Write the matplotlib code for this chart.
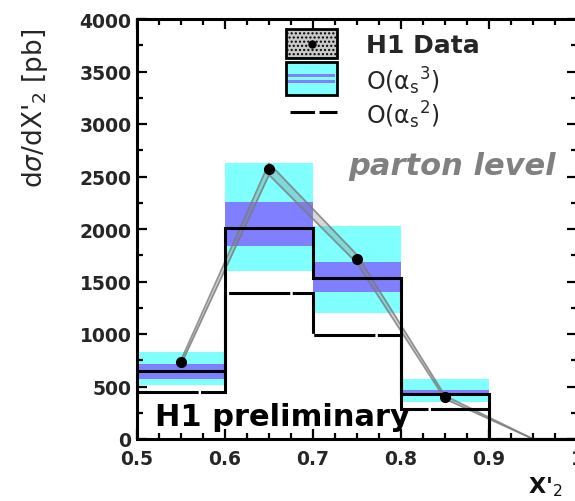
import numpy as np
import matplotlib
matplotlib.use("Agg")
import matplotlib.pyplot as plt
from matplotlib.patches import Rectangle
from matplotlib.lines import Line2D
from matplotlib.ticker import MultipleLocator, FixedLocator

# ---------------- data ----------------
edges = [0.5, 0.6, 0.7, 0.8, 0.9, 1.0]
nlo = [651, 2012, 1530, 432, 0]                 # O(alpha_s^3)
nlo_scale_lo = [571, 1835, 1403, 413, 0]        # inner (blue) band
nlo_scale_hi = [717, 2260, 1689, 470, 0]
nlo_tot_lo = [514, 1603, 1200, 355, 0]          # outer (cyan) band
nlo_tot_hi = [832, 2629, 2032, 571, 0]
lo = [451, 1388, 990, 286, 0]                   # O(alpha_s^2)
data_x = [0.55, 0.65, 0.75, 0.85, 0.95]
data_y = [730, 2571, 1714, 397, 0]
data_err = [20, 55, 40, 15, 0]
xtick_vals = [0.5, 0.6, 0.7, 0.8, 0.9, 1.0]
xtick_labels = ["0.5", "0.6", "0.7", "0.8", "0.9", "1"]
ytick_vals = [0, 500, 1000, 1500, 2000, 2500, 3000, 3500, 4000]
ytick_labels = ["0", "500", "1000", "1500", "2000", "2500", "3000", "3500", "4000"]

W, H = 575, 502
fig = plt.figure(figsize=(W / 100, H / 100), dpi=100)

def fx(px):
    return px / W

def fy(py):
    return 1 - py / H

left, right, top, bottom = 137, 577, 20, 440
ax = fig.add_axes([fx(left), fy(bottom), fx(right) - fx(left), fy(top) - fy(bottom)])
ax.set_xlim(0.5, 1.0)
ax.set_ylim(0, 4000)

cyan = "#80ffff"
blue = "#7f7fff"

ax.stairs(nlo_tot_hi, edges, baseline=nlo_tot_lo, fill=True, color=cyan, lw=0, zorder=1)
ax.stairs(nlo_scale_hi, edges, baseline=nlo_scale_lo, fill=True, color=blue, lw=0, zorder=2)

dy = np.array(data_y, float)
de = np.array(data_err, float)
ax.fill_between(data_x, dy - de, dy + de, color="#808080", alpha=0.3, lw=0, zorder=3)
ax.plot(data_x, dy + de, color="#7a7a7a", alpha=0.8, lw=1.3, zorder=3)
ax.plot(data_x, dy - de, color="#7a7a7a", alpha=0.8, lw=1.3, zorder=3)

ax.stairs(lo, edges, baseline=None, color="black", lw=2.2,
          linestyle=(0, (20, 0.8)), zorder=4)
ax.stairs(nlo, edges, baseline=None, color="black", lw=2.2, zorder=5, clip_on=False)

ax.plot(data_x[:-1], data_y[:-1], "o", color="black", ms=7, zorder=6)

# axes styling
for s in ax.spines.values():
    s.set_linewidth(2.2)
ax.xaxis.set_major_locator(FixedLocator(xtick_vals))
ax.set_xticklabels(xtick_labels)
ax.xaxis.set_minor_locator(MultipleLocator(0.025))
ax.yaxis.set_major_locator(FixedLocator(ytick_vals))
ax.set_yticklabels(ytick_labels)
ax.yaxis.set_minor_locator(MultipleLocator(250))
ax.tick_params(which="both", direction="in", top=True, right=True, width=1.6)
ax.tick_params(which="major", length=7)
ax.tick_params(which="minor", length=4.5)
ax.tick_params(axis="x", pad=7)
ax.tick_params(axis="y", pad=4)
for lab in ax.get_xticklabels() + ax.get_yticklabels():
    lab.set_fontfamily("DejaVu Sans")
    lab.set_fontweight("bold")
    lab.set_fontsize(13.5)
    lab.set_color("#262626")

# legend (drawn manually)
fig.patches.append(Rectangle((fx(286), fy(59)), fx(337) - fx(286), fy(30) - fy(59),
                             transform=fig.transFigure, facecolor="#c8c8c8",
                             edgecolor="black", lw=2, hatch="....", zorder=10))
fig.lines.append(Line2D([fx(311.5)], [fy(44.5)], marker="o", color="black", ms=5,
                        transform=fig.transFigure, zorder=11))
fig.patches.append(Rectangle((fx(286), fy(96)), fx(337) - fx(286), fy(63) - fy(96),
                             transform=fig.transFigure, facecolor=cyan,
                             edgecolor="black", lw=2, zorder=10))
for yb in (76.5, 82.5):
    fig.patches.append(Rectangle((fx(288), fy(yb + 1.5)), fx(335) - fx(288), fy(yb - 1.5) - fy(yb + 1.5),
                                 transform=fig.transFigure, facecolor=blue, lw=0, zorder=11))
fig.lines.append(Line2D([fx(290), fx(337)], [fy(112.5), fy(112.5)], color="black", lw=2.2,
                        linestyle=(0, (8, 1.5)), transform=fig.transFigure, zorder=11))

fig.text(fx(366), fy(46), "H1 Data", fontsize=18, fontweight="bold", family="DejaVu Sans",
         ha="left", va="center", color="#262626")
fig.text(fx(366), fy(81), r"O(α$_\mathregular{s}$$^\mathregular{3}$)", fontsize=17,
         family="DejaVu Sans", ha="left", va="center", color="#262626")
fig.text(fx(366), fy(115), r"O(α$_\mathregular{s}$$^\mathregular{2}$)", fontsize=17,
         family="DejaVu Sans", ha="left", va="center", color="#262626")

fig.text(fx(556), fy(167), "parton level", fontsize=22, fontweight="bold", style="italic",
         family="DejaVu Sans", color="#808080", ha="right", va="center")
fig.text(fx(155), fy(418), "H1 preliminary", fontsize=22, fontweight="bold",
         family="DejaVu Sans", color="black", ha="left", va="center")

fig.text(fx(35), fy(108), r"d$\sigma$/dX'$_2$ [pb]", fontsize=19, family="DejaVu Sans",
         rotation=90, ha="center", va="center", color="#262626")
fig.text(fx(528), fy(487), r"X'$_2$", fontsize=16, fontweight="bold", family="DejaVu Sans",
         ha="left", va="center", color="#111111")

fig.savefig("out.png", dpi=100)
